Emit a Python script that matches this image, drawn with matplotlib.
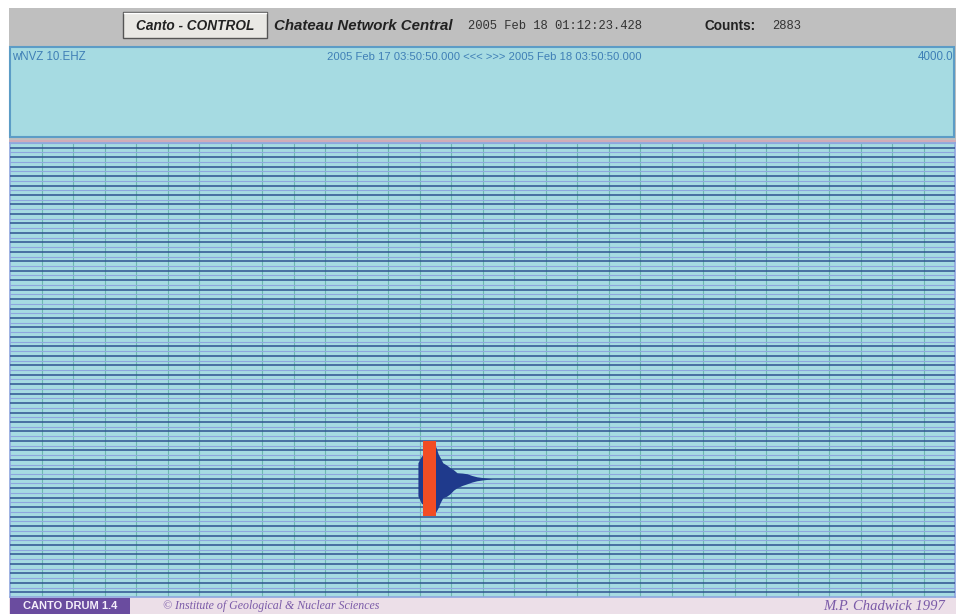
import numpy as np
import matplotlib
matplotlib.use("Agg")
import matplotlib.pyplot as plt
from matplotlib.patches import Rectangle

W, H, DPI = 958, 614, 100

# ---- drum record: 48 traces of 30 minutes each ----
n_traces = 48
minutes_per_trace = 30
trace_rows = list(range(n_traces))
minute_marks = list(range(1, minutes_per_trace))

# ---- recorded event (trace 35) ----
event_trace = 35
event_onset_min = 13.11
# clipped part of the signal (minutes after onset, amplitude in trace heights)
clip_start, clip_end = 0.0, 0.41
clip_up, clip_down = 4.0, 3.9
# coda envelope: minutes after onset, amplitude above / below the trace line
coda_t = [-0.16, -0.05, 0.41, 0.48, 0.55, 0.63, 0.75, 0.86, 0.97, 1.08, 1.25, 1.40, 1.55, 1.71, 1.90, 2.20]
coda_up = [1.69, 2.4, 3.39, 2.65, 2.2, 1.69, 1.45, 1.17, 0.95, 0.64, 0.6, 0.53, 0.35, 0.21, 0.12, 0.0]
coda_dn = [1.80, 2.6, 3.50, 3.07, 2.5, 2.00, 1.85, 1.59, 1.2, 0.95, 0.7, 0.53, 0.35, 0.21, 0.12, 0.0]

# ---- header texts ----
button_label = "Canto - CONTROL"
network_label = "Chateau Network Central"
clock_label = "2005 Feb 18 01:12:23.428"
counts_label = "Counts:"
counts_value = "2883"
channel_label = "wNVZ 10.EHZ"
span_label = "2005 Feb 17 03:50:50.000 <<< >>> 2005 Feb 18 03:50:50.000"
scale_label = "4000.0"
version_label = "CANTO DRUM 1.4"
copyright_label = "\u00a9 Institute of Geological & Nuclear Sciences"
author_label = "M.P. Chadwick 1997"

CYAN = "#a6dbe2"
NAVY = "#2f5290"
LIGHT = "#8ea6de"
GRID = "#58a89c"
GRAY = "#bfbfbf"

fig = plt.figure(figsize=(W / DPI, H / DPI), dpi=DPI)
fig.patch.set_facecolor("white")

# pixel-space canvas for the window frame
bg = fig.add_axes([0, 0, 1, 1])
bg.set_xlim(0, W)
bg.set_ylim(H, 0)
bg.axis("off")

# header bar
bg.add_patch(Rectangle((9, 8), 947, 38, facecolor=GRAY, edgecolor="none"))
bg.add_patch(Rectangle((123, 12), 144, 26, facecolor="#e9e8e4", edgecolor="#555555", lw=1.0))
bg.plot([124, 266], [13, 13], color="white", lw=1)
bg.text(195, 25.5, button_label, ha="center", va="center", fontsize=9.8,
        fontweight="bold", fontstyle="italic", family="Liberation Sans", color="#222222")
bg.text(274, 25.5, network_label, ha="left", va="center", fontsize=10.8,
        fontweight="bold", fontstyle="italic", family="Liberation Sans", color="#222222")
bg.text(468, 26, clock_label, ha="left", va="center", fontsize=8.7,
        family="Liberation Mono", color="#333333")
bg.text(705, 25.5, counts_label, ha="left", va="center", fontsize=9.8,
        fontweight="bold", family="Liberation Sans", color="#222222")
bg.text(772, 26, counts_value, ha="left", va="center", fontsize=8.7,
        family="Liberation Mono", color="#333333")

# top (overview) panel
bg.add_patch(Rectangle((9, 45), 947, 98, facecolor=GRAY, edgecolor="none"))
bg.add_patch(Rectangle((10.5, 46.5), 944, 90, facecolor=CYAN, edgecolor="#5c9cc6", lw=1.5))
bg.plot([10, 955], [140.5, 140.5], color="#d4a9b8", lw=1.2)
bg.text(12, 57, channel_label, ha="left", va="center", fontsize=8.3,
        family="Liberation Sans", color="#3f7fb6")
bg.text(484, 57, span_label, ha="center", va="center", fontsize=8.1,
        family="Liberation Sans", color="#3f7fb6")
bg.text(953, 57, scale_label, ha="right", va="center", fontsize=8.3,
        family="Liberation Sans", color="#3f7fb6")

# footer
bg.add_patch(Rectangle((9, 597), 947, 17, facecolor="#ecdfe8", edgecolor="none"))
bg.add_patch(Rectangle((10, 598), 120, 16, facecolor="#6a4c9f", edgecolor="none"))
bg.text(70, 606, version_label, ha="center", va="center", fontsize=8,
        fontweight="bold", family="Liberation Sans", color="#f4eefa")
bg.text(163, 606, copyright_label, ha="left", va="center", fontsize=8.6,
        fontstyle="italic", family="Liberation Serif", color="#7a5aa8")
bg.text(945, 606, author_label, ha="right", va="center", fontsize=10.5,
        fontstyle="italic", family="Liberation Serif", color="#7a5aa8")

# ---- drum axes ----
x0, x1, y0, y1 = 10, 955, 143, 597
ax = fig.add_axes([x0 / W, 1 - y1 / H, (x1 - x0) / W, (y1 - y0) / H])
ax.set_facecolor(CYAN)
ax.set_xlim(0, minutes_per_trace)
ax.set_ylim(n_traces, 0)
ax.set_xticks([])
ax.set_yticks([])
for s in ax.spines.values():
    s.set_color("#8ea6de")
    s.set_linewidth(1.2)

for m in minute_marks:
    ax.axvline(m, color=GRID, lw=0.8, alpha=0.7, zorder=1)

for r in trace_rows:
    ax.axhline(r, color=LIGHT, lw=0.8, zorder=2)
    ax.axhline(r + 0.5, color=NAVY, lw=1.1, zorder=3)

# event waveform
centre = event_trace + 0.5
ct = event_onset_min + np.array(coda_t)
ax.fill_between(ct, centre - np.array(coda_up), centre + np.array(coda_dn),
                color="#1f3a8c", lw=0, zorder=4)
ax.fill_between([event_onset_min + clip_start, event_onset_min + clip_end],
                centre - clip_up, centre + clip_down,
                color="#f24d24", lw=0, zorder=5)

fig.savefig("out.png", dpi=DPI, facecolor=fig.get_facecolor())
